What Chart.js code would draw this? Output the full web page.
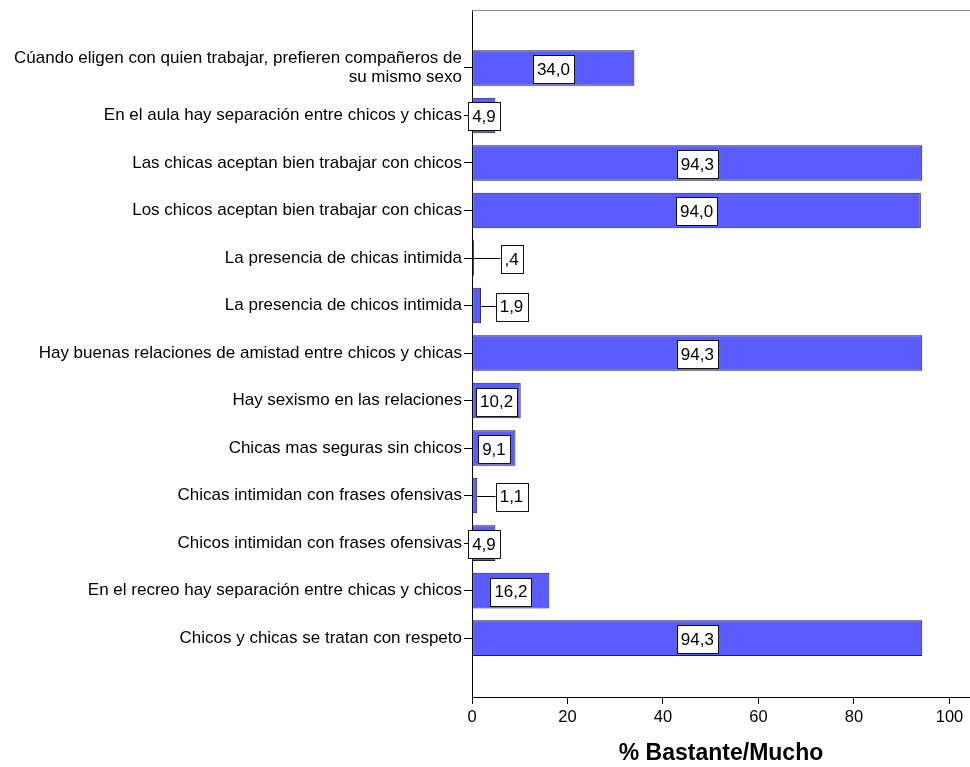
<!DOCTYPE html>
<html>
<head>
<meta charset="utf-8">
<script src="https://cdn.jsdelivr.net/npm/chart.js"></script>
<style>
    html, body { margin: 0; padding: 0; background: #fff; }
    #wrap { width: 970px; height: 767px; }
</style>
</head>
<body>
<div id="wrap"><canvas id="bar-chart"></canvas></div>
<script>
// categorias (de arriba a abajo)
const categories = [
    ['Cúando eligen con quien trabajar, prefieren compañeros de', 'su mismo sexo'],
    'En el aula hay separación entre chicos y chicas',
    'Las chicas aceptan bien trabajar con chicos',
    'Los chicos aceptan bien trabajar con chicas',
    'La presencia de chicas intimida',
    'La presencia de chicos intimida',
    'Hay buenas relaciones de amistad entre chicos y chicas',
    'Hay sexismo en las relaciones',
    'Chicas mas seguras sin chicos',
    'Chicas intimidan con frases ofensivas',
    'Chicos intimidan con frases ofensivas',
    'En el recreo hay separación entre chicas y chicos',
    'Chicos y chicas se tratan con respeto'
];

// % Bastante/Mucho
const values = [34.0, 4.9, 94.3, 94.0, 0.4, 1.9, 94.3, 10.2, 9.1, 1.1, 4.9, 16.2, 94.3];

const xTicks = [0, 20, 40, 60, 80, 100];
const axisTitle = '% Bastante/Mucho';

const FONT = '"Liberation Sans", Arial, sans-serif';

// formato estilo SPSS: coma decimal, sin cero inicial
function fmt(v) {
    return v.toFixed(1).replace('.', ',').replace(/^0/, '');
}

// etiquetas en cajas blancas + borde superior del area
const boxLabels = {
    id: 'boxLabels',
    afterDatasetsDraw(chart) {
        const ctx = chart.ctx;
        const area = chart.chartArea;
        ctx.save();
        // linea gris superior
        ctx.strokeStyle = '#8a8a8a';
        ctx.lineWidth = 1;
        ctx.beginPath();
        ctx.moveTo(area.left, area.top + 0.5);
        ctx.lineTo(area.right, area.top + 0.5);
        ctx.stroke();

        ctx.font = '17px ' + FONT;
        ctx.textAlign = 'center';
        ctx.textBaseline = 'middle';
        const meta = chart.getDatasetMeta(0);
        meta.data.forEach(function (bar, i) {
            const text = fmt(values[i]);
            const w = Math.round(ctx.measureText(text).width) + 8;
            const h = 28;
            let cx;
            if (bar.x - bar.base < 12) {
                // barra muy pequeña: caja afuera con linea guia
                cx = bar.base + 39;
                ctx.strokeStyle = '#000';
                ctx.beginPath();
                ctx.moveTo(bar.x, Math.round(bar.y) + 0.5);
                ctx.lineTo(cx - w / 2, Math.round(bar.y) + 0.5);
                ctx.stroke();
            } else {
                cx = (bar.base + bar.x) / 2;
            }
            const left = Math.round(cx - w / 2) + 0.5;
            const top = Math.round(bar.y - h / 2 + 1) + 0.5;
            ctx.fillStyle = '#fff';
            ctx.fillRect(left, top, w, h);
            ctx.strokeStyle = '#111';
            ctx.strokeRect(left, top, w, h);
            ctx.fillStyle = '#000';
            ctx.fillText(text, cx, bar.y + 2);
        });
        ctx.restore();
    }
};

const ctx = document.getElementById('bar-chart').getContext('2d');
const barChart = new Chart(ctx, {
    type: 'bar',
    data: {
        datasets: [{
            data: values.map((v, i) => ({ x: v, y: i })),
            backgroundColor: '#5a5cff',
            borderColor: '#1e1e3c',
            borderWidth: 1,
            borderSkipped: false,
            barPercentage: 0.75,
            categoryPercentage: 1
        }]
    },
    options: {
        indexAxis: 'y',
        responsive: true,
        maintainAspectRatio: false,
        animation: false,
        layout: { padding: { top: 10, right: 0, bottom: 0, left: 0 } },
        plugins: {
            legend: { display: false },
            tooltip: { enabled: false }
        },
        scales: {
            y: {
                type: 'linear',
                reverse: true,
                offset: false,
                min: -1.22,
                max: 13.24,
                afterBuildTicks: function (scale) {
                    scale.ticks = categories.map((c, i) => ({ value: i }));
                },
                afterFit: function (scale) {
                    scale.width = 472;
                    scale.paddingTop = 0;
                    scale.paddingBottom = 0;
                },
                ticks: {
                    callback: function (value) {
                        return categories[value];
                    },
                    color: '#000',
                    font: { family: FONT, size: 17, lineHeight: 1.08 },
                    padding: 2
                },
                grid: {
                    offset: false,
                    drawOnChartArea: false,
                    drawTicks: true,
                    tickLength: 8,
                    color: '#000'
                },
                border: { color: '#000', width: 1 }
            },
            x: {
                type: 'linear',
                min: 0,
                max: 104.3,
                afterBuildTicks: function (scale) {
                    scale.ticks = xTicks.map(v => ({ value: v }));
                },
                afterFit: function (scale) {
                    scale.height = 70;
                    scale.paddingLeft = 0;
                    scale.paddingRight = 0;
                },
                ticks: {
                    color: '#000',
                    font: { family: FONT, size: 16.5 },
                    padding: 4,
                    maxRotation: 0
                },
                grid: {
                    drawOnChartArea: false,
                    drawTicks: true,
                    tickLength: 7,
                    color: '#000'
                },
                border: { color: '#000', width: 1 },
                title: {
                    display: true,
                    text: axisTitle,
                    color: '#000',
                    font: { family: FONT, size: 23, weight: 'bold' },
                    padding: { top: 0, bottom: 0 }
                }
            }
        }
    },
    plugins: [boxLabels]
});
</script>
</body>
</html>
